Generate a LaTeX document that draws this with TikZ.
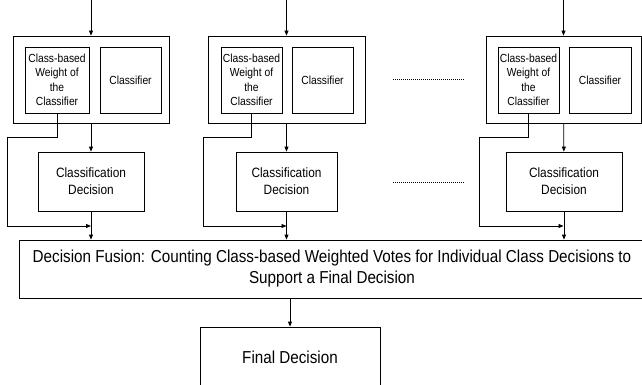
\documentclass[tikz,border=0pt]{standalone}
\usepackage{fontspec}
\setmainfont{Liberation Sans}[FakeStretch=0.88]
\usetikzlibrary{arrows.meta}

\begin{document}
\begin{tikzpicture}[x=1pt,y=-1pt,line width=0.8pt,
    box/.style={draw, inner sep=0pt, align=center},
    arr/.style={-{Triangle[length=5pt,width=4pt]}},
    small/.style={font=\fontsize{11.7}{14.5}\selectfont},
    mid/.style={font=\fontsize{13.5}{17}\selectfont},
    big/.style={font=\fontsize{17.3}{21}\selectfont}]

            \useasboundingbox (0,0) rectangle (642,385);

            % first classifier
            \node[box, minimum width=156pt, minimum height=87pt] (outA) at (91,79.5) {};
            \node[box, small, minimum width=64pt, minimum height=66pt] (wA) at (57,80) {Class-based\\Weight of\\the\\Classifier};
            \node[box, small, minimum width=61pt, minimum height=66pt] (cA) at (130.5,80) {Classifier};
            \node[box, mid, minimum width=106pt, minimum height=59pt] (dA) at (91,181.5) {Classification\\Decision};

            % second classifier
            \node[box, minimum width=157pt, minimum height=87pt] (outB) at (286.5,79.5) {};
            \node[box, small, minimum width=61pt, minimum height=66pt] (wB) at (251.5,80) {Class-based\\Weight of\\the\\Classifier};
            \node[box, small, minimum width=61pt, minimum height=66pt] (cB) at (322.5,80) {Classifier};
            \node[box, mid, minimum width=101pt, minimum height=59pt] (dB) at (286.5,181.5) {Classification\\Decision};

            % last classifier
            \node[box, minimum width=155pt, minimum height=87pt] (outC) at (563.5,79.5) {};
            \node[box, small, minimum width=61pt, minimum height=66pt] (wC) at (528.5,80) {Class-based\\Weight of\\the\\Classifier};
            \node[box, small, minimum width=62pt, minimum height=66pt] (cC) at (600,80) {Classifier};
            \node[box, mid, minimum width=116pt, minimum height=59pt] (dC) at (564,181.5) {Classification\\Decision};

            % fusion and final decision
            \node[box, big, minimum width=626pt, minimum height=58pt] (fusion) at (332,269) {Decision Fusion: Counting Class-based Weighted Votes for Individual Class Decisions to\\Support a Final Decision};
            \node[box, big, minimum width=180pt, minimum height=60pt] (final) at (290,357) {Final Decision};

            \coordinate (inA) at (91,0);
            \coordinate (inB) at (286.5,0);
            \coordinate (inC) at (563.5,0);
            \coordinate (mA) at (91,226);
            \coordinate (mB) at (286.5,226);
            \coordinate (mC) at (563.5,226);

            % inputs
            \draw[arr] (inA) -- (outA);
            \draw[arr] (inB) -- (outB);
            \draw[arr] (inC) -- (outC);

            \draw[arr] (outA) -- (dA);
            \draw[arr] (outB) -- (dB);
            \draw[arr] (outC) -- (dC);

            % weights
            \draw[arr] (wA.south) |- (7,137) |- (mA);
            \draw[arr] (wB.south) |- (203,137) |- (mB);
            \draw[arr] (wC.south) |- (479,137) |- (mC);

            \draw[arr] (dA) -- (fusion.north -| dA);
            \draw[arr] (dB) -- (fusion.north -| dB);
            \draw[arr] (dC) -- (fusion.north -| dC);

            \draw[arr] (fusion.south -| final) -- (final);

            % dots between the columns
            \draw[dash pattern=on 1pt off 1pt] (393,79) -- (464,79);
            \draw[dash pattern=on 1pt off 1pt] (393,182) -- (464,182);

        \end{tikzpicture}
\end{document}
